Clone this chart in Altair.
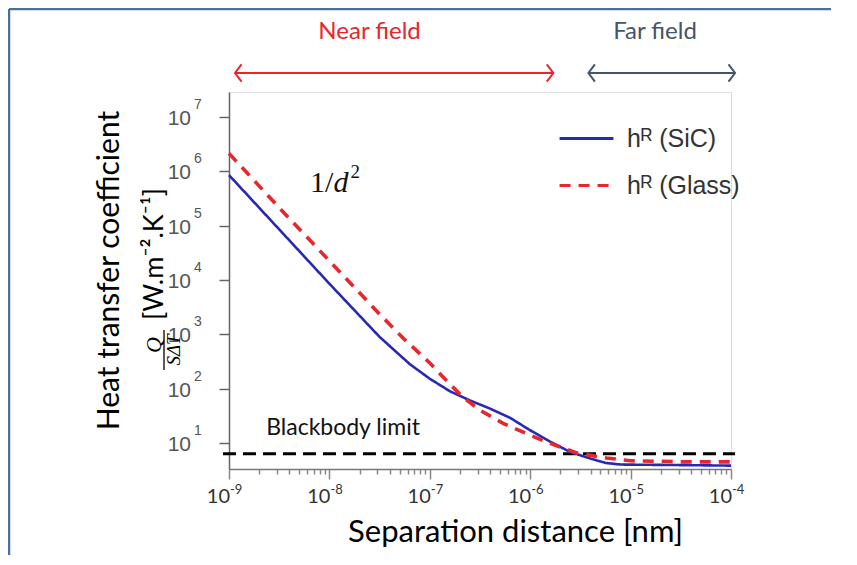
import altair as alt
import pandas as pd

# ---- data (log10 values) ----
sic_log_d = [-9.0, -8.5, -8.0, -7.5, -7.2, -7.0, -6.8, -6.6, -6.4, -6.2, -6.0, -5.8, -5.6, -5.4, -5.25, -5.1, -4.5, -4.0]
sic_log_h = [5.93, 4.93, 3.93, 2.95, 2.45, 2.18, 1.95, 1.78, 1.63, 1.46, 1.23, 1.02, 0.83, 0.71, 0.63, 0.60, 0.59, 0.58]
glass_log_d = [-9.0, -8.5, -8.0, -7.5, -7.25, -7.0, -6.8, -6.67, -6.5, -6.27, -6.0, -5.83, -5.53, -5.24, -5.0, -4.5, -4.0]
glass_log_h = [6.33, 5.33, 4.35, 3.37, 2.90, 2.47, 2.08, 1.84, 1.60, 1.36, 1.14, 1.01, 0.81, 0.72, 0.67, 0.65, 0.65]
series_names = ["h\u1d3f (SiC)", "h\u1d3f (Glass)"]
series_colors = ["#2828b4", "#e8262b"]

blackbody_log_h = 0.80
blackbody_span = [-9.06, -3.96]

x_decades = [-9, -8, -7, -6, -5, -4]
x_exps = ["-9", "-8", "-7", "-6", "-5", "-4"]
y_decades = [1, 2, 3, 4, 5, 6, 7]
y_exps = ["1", "2", "3", "4", "5", "6", "7"]

region_names = ["Near field", "Far field"]
region_from = [-8.94, -5.42]
region_to = [-5.77, -3.96]
region_text_x = [-7.60, -4.757]
region_colors = ["#e8262b", "#44546a"]
arrow_log_h = 7.81
region_text_log_h = 8.565

W, H = 502, 377

rows = []
for i, (ld, lh) in enumerate(zip(sic_log_d, sic_log_h)):
    rows.append({"series": series_names[0], "i": i, "d": 10 ** ld, "h": 10 ** lh})
for i, (ld, lh) in enumerate(zip(glass_log_d, glass_log_h)):
    rows.append({"series": series_names[1], "i": i, "d": 10 ** ld, "h": 10 ** lh})
df = pd.DataFrame(rows)

xscale = alt.Scale(type="log", domain=[1e-9, 1e-4], nice=False)
yscale = alt.Scale(type="log", domain=[10 ** 0.518, 10 ** 7.46], nice=False)

x_tick_values = [m * 10.0 ** e for e in range(-9, -4) for m in range(1, 10)] + [1e-4]
dec_test = "abs(log(datum.value)/LN10 - round(log(datum.value)/LN10)) < 0.01"

legend = alt.Legend(
    title=None, orient="none", legendX=329, legendY=18,
    labelFont="Liberation Sans", labelFontSize=25, labelColor="#333333",
    symbolType="stroke", symbolSize=2900, symbolStrokeWidth=3,
    rowPadding=5, labelOffset=12,
)

lines = alt.Chart(df).mark_line(clip=False).encode(
    x=alt.X("d:Q", scale=xscale, axis=alt.Axis(
        values=x_tick_values, labels=False, grid=False,
        domainColor="#777777", domainWidth=1.5,
        tickColor="#888888", tickWidth=1.5,
        tickSize={"condition": {"test": dec_test, "value": 10}, "value": 5},
        title="Separation distance [nm]", titleFont="Lato", titleFontSize=31,
        titleFontWeight="normal", titleColor="#000000",
        titleX=286, titleY=72, titleBaseline="alphabetic", titleAlign="center",
    )),
    y=alt.Y("h:Q", scale=yscale, axis=alt.Axis(
        values=[10.0 ** k for k in y_decades], labels=False, grid=False,
        domainColor="#666666", domainWidth=1.5,
        tickColor="#666666", tickWidth=1.5, tickSize=10,
        title="Heat transfer coefficient", titleFont="Lato", titleFontSize=30,
        titleFontWeight="normal", titleColor="#000000",
        titleX=-111, titleY=178, titleAngle=270, titleBaseline="alphabetic", titleAlign="center",
    )),
    color=alt.Color("series:N", scale=alt.Scale(domain=series_names, range=series_colors), legend=legend),
    strokeDash=alt.StrokeDash("series:N", scale=alt.Scale(domain=series_names, range=[[1, 0], [11, 8]]), legend=legend),
    strokeWidth=alt.StrokeWidth("series:N", scale=alt.Scale(domain=series_names, range=[2.6, 3.6]), legend=None),
    order="i:Q",
)

bb_df = pd.DataFrame({"x": [10 ** blackbody_span[0]], "x2": [10 ** blackbody_span[1]], "y": [10 ** blackbody_log_h]})
blackbody = alt.Chart(bb_df).mark_rule(color="#000000", strokeWidth=3, strokeDash=[13, 7], clip=False).encode(
    x=alt.X("x:Q", scale=xscale), x2="x2:Q", y=alt.Y("y:Q", scale=yscale)
)

# tick labels "10" + exponent
xl_df = pd.DataFrame({"v": [10.0 ** e for e in x_decades], "e": x_exps})
x_base = alt.Chart(xl_df).mark_text(font="Lato", fontSize=20, color="#333333", align="right",
                                     baseline="alphabetic", dx=1, clip=False).encode(
    x=alt.X("v:Q", scale=xscale), y=alt.value(H + 34), text=alt.value("10"))
x_exp = alt.Chart(xl_df).mark_text(font="Lato", fontSize=13, color="#333333", align="left",
                                    baseline="alphabetic", dx=1, clip=False).encode(
    x=alt.X("v:Q", scale=xscale), y=alt.value(H + 25), text="e:N")

yl_df = pd.DataFrame({"v": [10.0 ** k for k in y_decades], "e": y_exps})
y_base = alt.Chart(yl_df).mark_text(font="Liberation Sans", fontSize=21, color="#555555", align="right",
                                     baseline="middle", dy=2, clip=False).encode(
    y=alt.Y("v:Q", scale=yscale), x=alt.value(-38), text=alt.value("10"))
y_exp = alt.Chart(yl_df).mark_text(font="Liberation Sans", fontSize=14, color="#555555", align="left",
                                    baseline="middle", dy=-12, clip=False).encode(
    y=alt.Y("v:Q", scale=yscale), x=alt.value(-35), text="e:N")

# annotations in data space
ann_df = pd.DataFrame({"x": [10 ** -8.63], "y": [10 ** 1.27], "t": ["Blackbody limit"]})
bb_text = alt.Chart(ann_df).mark_text(font="Lato", fontSize=23, color="#111111", align="left",
                                      baseline="middle").encode(
    x=alt.X("x:Q", scale=xscale), y=alt.Y("y:Q", scale=yscale), text="t:N")

d_df = pd.DataFrame({"x": [10 ** -7.98], "y": [10 ** 5.78]})
d_one = alt.Chart(d_df).mark_text(font="Liberation Serif", fontSize=30, color="#111111", align="right",
                                  baseline="middle", dx=2).encode(
    x=alt.X("x:Q", scale=xscale), y=alt.Y("y:Q", scale=yscale), text=alt.value("1/"))
d_var = alt.Chart(d_df).mark_text(font="Liberation Serif", fontSize=30, fontStyle="italic", color="#111111",
                                  align="left", baseline="middle", dx=2).encode(
    x=alt.X("x:Q", scale=xscale), y=alt.Y("y:Q", scale=yscale), text=alt.value("d"))
d_sq = alt.Chart(d_df).mark_text(font="Liberation Serif", fontSize=19, color="#111111",
                                 align="left", baseline="middle", dx=19, dy=-11).encode(
    x=alt.X("x:Q", scale=xscale), y=alt.Y("y:Q", scale=yscale), text=alt.value("2"))

reg_df = pd.DataFrame({
    "name": region_names, "x": [10 ** v for v in region_from], "x2": [10 ** v for v in region_to],
    "tx": [10 ** v for v in region_text_x], "y": [10 ** arrow_log_h] * 2, "ty": [10 ** region_text_log_h] * 2,
})
reg_color = alt.Color("name:N", scale=alt.Scale(domain=region_names, range=region_colors), legend=None)
arrows = alt.Chart(reg_df).mark_rule(strokeWidth=2, clip=False).encode(
    x=alt.X("x:Q", scale=xscale), x2="x2:Q", y=alt.Y("y:Q", scale=yscale), color=reg_color)
head_l = alt.Chart(reg_df).mark_point(shape="M0.75,-1L0,0L0.75,1", filled=False, size=300, strokeWidth=2,
                                      opacity=1, clip=False).encode(
    x=alt.X("x:Q", scale=xscale), y=alt.Y("y:Q", scale=yscale), color=reg_color)
head_r = alt.Chart(reg_df).mark_point(shape="M-0.75,-1L0,0L-0.75,1", filled=False, size=300, strokeWidth=2,
                                      opacity=1, clip=False).encode(
    x=alt.X("x2:Q", scale=xscale), y=alt.Y("y:Q", scale=yscale), color=reg_color)
reg_text = alt.Chart(reg_df).mark_text(font="Lato", fontSize=24, baseline="middle", align="center",
                                       clip=False).encode(
    x=alt.X("tx:Q", scale=xscale), y=alt.Y("ty:Q", scale=yscale), text="name:N", color=reg_color)

# second line of the y title: Q / (S dT) [W.m-2.K-1]
yt_unit = alt.Chart(ann_df).mark_text(font="Lato", fontSize=27, angle=270, align="center",
                                      baseline="alphabetic", color="#000000").encode(
    x=alt.value(-66), y=alt.value(162), text=alt.value("[W.m\u207b\u00b2.K\u207b\u00b9]"))
yt_q = alt.Chart(ann_df).mark_text(font="Liberation Serif", fontStyle="italic", fontSize=22, angle=270,
                                   align="center", baseline="middle", color="#000000").encode(
    x=alt.value(-75), y=alt.value(253), text=alt.value("Q"))
yt_bar = alt.Chart(ann_df).mark_rule(color="#000000", strokeWidth=1.3).encode(
    x=alt.value(-65), y=alt.value(238), y2=alt.value(278))
yt_s = alt.Chart(ann_df).mark_text(font="Liberation Serif", fontStyle="italic", fontSize=19, angle=270,
                                   align="center", baseline="middle", color="#000000").encode(
    x=alt.value(-55), y=alt.value(258), text=alt.value("S\u0394T"))

# slide border (top and left edges)
border_top = alt.Chart(ann_df).mark_rule(color="#4a6f9c", strokeWidth=2.5).encode(
    x=alt.value(-220), x2=alt.value(W + 100), y=alt.value(-83), y2=alt.value(-83))
border_left = alt.Chart(ann_df).mark_rule(color="#4a6f9c", strokeWidth=2.5).encode(
    x=alt.value(-220), x2=alt.value(-220), y=alt.value(-83), y2=alt.value(H + 110))

chart = alt.layer(
    border_top, border_left,
    blackbody, lines, x_base, x_exp, y_base, y_exp, bb_text, d_one, d_var, d_sq,
    arrows, head_l, head_r, reg_text, yt_unit, yt_q, yt_bar, yt_s,
).resolve_scale(color="independent", strokeDash="independent").properties(
    width=W, height=H,
    autosize=alt.AutoSizeParams(type="none"),
    padding={"left": 221, "top": 84, "right": 118, "bottom": 86},
).configure_view(stroke=None).configure(background="#ffffff")

chart.save("out.html", embed_options={"renderer": "svg", "actions": False})
